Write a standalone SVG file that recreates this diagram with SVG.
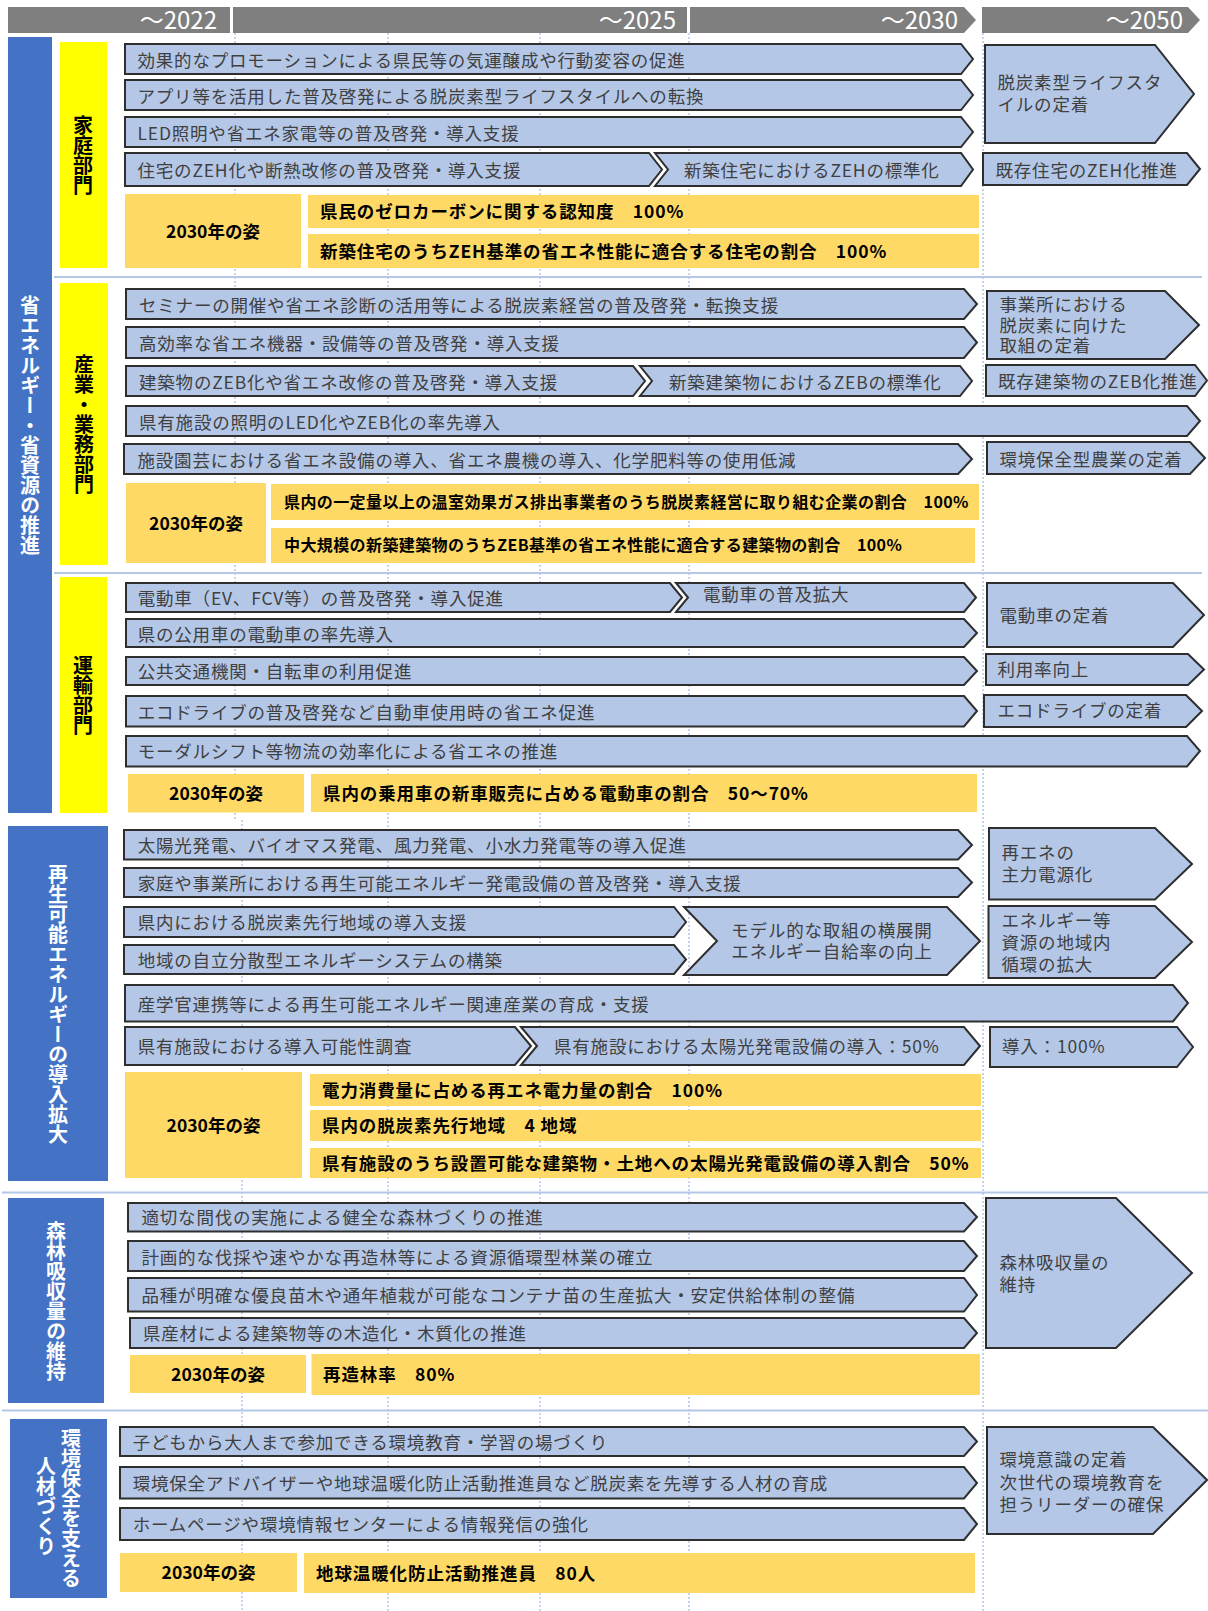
<svg xmlns="http://www.w3.org/2000/svg" width="1208" height="1611" viewBox="0 0 1208 1611">
<style>
text{font-family:'Noto Sans CJK JP','Noto Sans CJK SC',sans-serif}
.hd{fill:#7f7f7f}
.hdt{fill:#fff;font-size:24px;text-anchor:end}
.bar{fill:#4472c4}
.yb{fill:#ffff00}
.act{fill:#b4c7e7;stroke:#2e2e2e;stroke-width:2;stroke-linejoin:miter}
.at{font-size:17.5px;letter-spacing:0.8px;fill:#404040}
.gold{fill:#ffd966}
.gt{font-size:17.5px;font-weight:bold;fill:#000;letter-spacing:0.9px}
.gs{font-size:16px;letter-spacing:0.4px}
.gc{text-anchor:middle;letter-spacing:0}
.vt{writing-mode:vertical-rl;font-size:20px;font-weight:bold;text-anchor:middle}
.w{fill:#fff}
.k{fill:#000}
.grid{stroke:#8eaadb;stroke-width:1;stroke-dasharray:2 2;fill:none}
.sep{stroke:#b4c7e7;stroke-width:2}
</style>
<rect width="1208" height="1611" fill="#fff"/>
<g id="gridlines">
<line class="grid" x1="235" y1="33" x2="235" y2="820"/>
<line class="grid" x1="242" y1="820" x2="242" y2="1611"/>
<line class="grid" x1="388" y1="33" x2="388" y2="1611"/>
<line class="grid" x1="540" y1="33" x2="540" y2="1611"/>
<line class="grid" x1="689" y1="33" x2="689" y2="1611"/>
<line class="grid" x1="983" y1="33" x2="983" y2="1611"/>
<line class="sep" x1="54" y1="277" x2="1202" y2="277"/>
<line class="sep" x1="54" y1="573" x2="1202" y2="573"/>
<line class="sep" x1="2" y1="1192.5" x2="1208" y2="1192.5"/>
<line class="sep" x1="2" y1="1410.5" x2="1208" y2="1410.5"/>
</g>
<g id="header">
<rect class="hd" x="8" y="7" width="222" height="26"/>
<text class="hdt" x="217" y="28.5">～2022</text>
<rect class="hd" x="233" y="7" width="454" height="26"/>
<text class="hdt" x="676" y="28.5">～2025</text>
<polygon class="hd" points="690,7 964,7 976,20 964,33 690,33"/>
<text class="hdt" x="958" y="28.5">～2030</text>
<polygon class="hd" points="982,7 1188,7 1200,20 1188,33 982,33"/>
<text class="hdt" x="1183" y="28.5">～2050</text>
</g>
<g id="sec-energy">
<rect class="bar" x="8" y="37" width="44" height="776"/>
<text class="vt w" x="30" y="425">省エネルギー・省資源の推進</text>
</g>
<g id="sec-home">
<rect class="yb" x="60" y="42" width="47" height="226"/>
<text class="vt k" x="83" y="155.5">家庭部門</text>
<polygon class="act" points="125,44 961,44 973,59 961,74 125,74"/>
<text class="at" x="137.5" y="66.5">効果的なプロモーションによる県民等の気運醸成や行動変容の促進</text>
<polygon class="act" points="125,80 961,80 973,95 961,110 125,110"/>
<text class="at" x="137.5" y="102.5">アプリ等を活用した普及啓発による脱炭素型ライフスタイルへの転換</text>
<polygon class="act" points="125,117 961,117 973,132 961,147 125,147"/>
<text class="at" x="137.5" y="139.5">LED照明や省エネ家電等の普及啓発・導入支援</text>
<polygon class="act" points="125,153 649,153 662,169.5 649,186 125,186"/>
<text class="at" x="137.5" y="177">住宅のZEH化や断熱改修の普及啓発・導入支援</text>
<polygon class="act" points="655,153 961,153 973,169.5 961,186 655,186 668,169.5"/>
<text class="at" x="684" y="177">新築住宅におけるZEHの標準化</text>
<polygon class="act" points="985,45 1155,45 1194,94 1155,143 985,143"/>
<text class="at"><tspan x="997.5" y="89">脱炭素型ライフスタ</tspan><tspan x="997.5" y="110.5">イルの定着</tspan></text>
<polygon class="act" points="983,153 1187,153 1200,169 1187,185 983,185"/>
<text class="at" x="995.5" y="176.5">既存住宅のZEH化推進</text>
<rect class="gold" x="125" y="194" width="176" height="74"/>
<text class="gt gc" x="213" y="237.5">2030年の姿</text>
<rect class="gold" x="308" y="195" width="671" height="33"/>
<text class="gt" x="320" y="218">県民のゼロカーボンに関する認知度　100%</text>
<rect class="gold" x="308" y="234" width="671" height="34"/>
<text class="gt" x="320" y="257.5">新築住宅のうちZEH基準の省エネ性能に適合する住宅の割合　100%</text>
</g>
<g id="sec-industry">
<rect class="yb" x="60" y="283" width="48" height="282"/>
<text class="vt k" x="84" y="424">産業・業務部門</text>
<polygon class="act" points="126,289 964,289 977,304 964,319 126,319"/>
<text class="at" x="139" y="311.5">セミナーの開催や省エネ診断の活用等による脱炭素経営の普及啓発・転換支援</text>
<polygon class="act" points="126,327 964,327 977,342.5 964,358 126,358"/>
<text class="at" x="139" y="350">高効率な省エネ機器・設備等の普及啓発・導入支援</text>
<polygon class="act" points="126,366 633,366 645,381 633,396 126,396"/>
<text class="at" x="139" y="388.5">建築物のZEB化や省エネ改修の普及啓発・導入支援</text>
<polygon class="act" points="640,366 960,366 972,381 960,396 640,396 652,381"/>
<text class="at" x="669" y="388.5">新築建築物におけるZEBの標準化</text>
<polygon class="act" points="986,365 1195,365 1207,380.5 1195,396 986,396"/>
<text class="at" x="998" y="388">既存建築物のZEB化推進</text>
<polygon class="act" points="126,406 1187,406 1200,421 1187,436 126,436"/>
<text class="at" x="139" y="428.5">県有施設の照明のLED化やZEB化の率先導入</text>
<polygon class="act" points="124,444 958,444 972,459 958,474 124,474"/>
<text class="at" x="137.5" y="466.5">施設園芸における省エネ設備の導入、省エネ農機の導入、化学肥料等の使用低減</text>
<polygon class="act" points="987,442 1190,442 1205,458 1190,474 987,474"/>
<text class="at" x="999.5" y="465.5">環境保全型農業の定着</text>
<polygon class="act" points="987,291 1165,291 1199,325 1165,359 987,359"/>
<text class="at"><tspan x="999.5" y="310.5">事業所における</tspan><tspan x="999.5" y="331.5">脱炭素に向けた</tspan><tspan x="999.5" y="352">取組の定着</tspan></text>
<rect class="gold" x="126" y="483" width="140" height="80"/>
<text class="gt gc" x="196" y="529.5">2030年の姿</text>
<rect class="gold" x="271" y="484" width="708" height="36"/>
<text class="gt gs" x="284" y="507.5">県内の一定量以上の温室効果ガス排出事業者のうち脱炭素経営に取り組む企業の割合　100%</text>
<rect class="gold" x="271" y="528" width="704" height="35"/>
<text class="gt gs" x="284" y="551">中大規模の新築建築物のうちZEB基準の省エネ性能に適合する建築物の割合　100%</text>
</g>
<g id="sec-transport">
<rect class="yb" x="60" y="577" width="47" height="236"/>
<text class="vt k" x="83" y="695">運輸部門</text>
<polygon class="act" points="126,583 670,583 682,597.5 670,612 126,612"/>
<text class="at" x="137.7" y="604.5">電動車（EV、FCV等）の普及啓発・導入促進</text>
<polygon class="act" points="676,583 964,583 976,597.5 964,612 676,612 688,597.5"/>
<text class="at" x="703" y="601">電動車の普及拡大</text>
<polygon class="act" points="126,619 964,619 977,633 964,647 126,647"/>
<text class="at" x="137.7" y="640.5">県の公用車の電動車の率先導入</text>
<polygon class="act" points="126,657 964,657 977,671 964,685 126,685"/>
<text class="at" x="137.7" y="678">公共交通機関・自転車の利用促進</text>
<polygon class="act" points="126,696 964,696 977,711 964,726.5 126,726.5"/>
<text class="at" x="137.7" y="718.5">エコドライブの普及啓発など自動車使用時の省エネ促進</text>
<polygon class="act" points="126,736 1187,736 1200,751 1187,766.5 126,766.5"/>
<text class="at" x="137.7" y="758">モーダルシフト等物流の効率化による省エネの推進</text>
<polygon class="act" points="987,583 1173,583 1204,615 1173,647 987,647"/>
<text class="at" x="999.5" y="622">電動車の定着</text>
<polygon class="act" points="986,654 1188,654 1204,669.5 1188,685 986,685"/>
<text class="at" x="997.5" y="675.5">利用率向上</text>
<polygon class="act" points="984,695 1186,695 1202,711 1186,727 984,727"/>
<text class="at" x="997.5" y="717">エコドライブの定着</text>
<rect class="gold" x="128" y="774" width="176" height="38.5"/>
<text class="gt gc" x="216" y="800">2030年の姿</text>
<rect class="gold" x="311" y="774" width="666" height="38"/>
<text class="gt" x="323" y="799.5">県内の乗用車の新車販売に占める電動車の割合　50～70%</text>
</g>
<g id="sec-renewable">
<rect class="bar" x="8" y="826" width="100" height="355"/>
<text class="vt w" x="58" y="1004">再生可能エネルギーの導入拡大</text>
<polygon class="act" points="124,830 958,830 972,845 958,859.5 124,859.5"/>
<text class="at" x="137.7" y="852">太陽光発電、バイオマス発電、風力発電、小水力発電等の導入促進</text>
<polygon class="act" points="124,868 958,868 972,882.5 958,897 124,897"/>
<text class="at" x="137.7" y="889.5">家庭や事業所における再生可能エネルギー発電設備の普及啓発・導入支援</text>
<polygon class="act" points="124,907 674,907 686,922 674,937 124,937"/>
<text class="at" x="137.7" y="929">県内における脱炭素先行地域の導入支援</text>
<polygon class="act" points="124,945 674,945 686,959.5 674,974 124,974"/>
<text class="at" x="137.7" y="966.5">地域の自立分散型エネルギーシステムの構築</text>
<polygon class="act" points="684,907 947,907 980,941 947,975 684,975 717,941"/>
<text class="at" text-anchor="middle"><tspan x="832" y="937">モデル的な取組の横展開</tspan><tspan x="832" y="958">エネルギー自給率の向上</tspan></text>
<polygon class="act" points="989,828 1155,828 1192,864 1155,899.5 989,899.5"/>
<text class="at"><tspan x="1001.5" y="859">再エネの</tspan><tspan x="1001.5" y="881">主力電源化</tspan></text>
<polygon class="act" points="988.5,906 1155,906 1192,942 1155,978 988.5,978"/>
<text class="at"><tspan x="1001.5" y="927">エネルギー等</tspan><tspan x="1001.5" y="949">資源の地域内</tspan><tspan x="1001.5" y="970.5">循環の拡大</tspan></text>
<polygon class="act" points="125,985 1173,985 1188,1003 1173,1021.5 125,1021.5"/>
<text class="at" x="137.7" y="1010.5">産学官連携等による再生可能エネルギー関連産業の育成・支援</text>
<polygon class="act" points="125,1027 515,1027 531,1046 515,1065 125,1065"/>
<text class="at" x="137.7" y="1052.5">県有施設における導入可能性調査</text>
<polygon class="act" points="521,1027 964,1027 980,1046 964,1065 521,1065 537,1046"/>
<text class="at" x="554" y="1052.5">県有施設における太陽光発電設備の導入：50%</text>
<polygon class="act" points="990,1027 1177,1027 1193,1047 1177,1067 990,1067"/>
<text class="at" x="1002" y="1052.5">導入：100%</text>
<rect class="gold" x="125" y="1072" width="177" height="106"/>
<text class="gt gc" x="213.5" y="1131.5">2030年の姿</text>
<rect class="gold" x="310" y="1074" width="671" height="32"/>
<text class="gt" x="322" y="1096.5">電力消費量に占める再エネ電力量の割合　100%</text>
<rect class="gold" x="310" y="1110" width="671" height="31"/>
<text class="gt" x="322" y="1132">県内の脱炭素先行地域　4 地域</text>
<rect class="gold" x="310" y="1148" width="671" height="30"/>
<text class="gt" x="322" y="1169.5">県有施設のうち設置可能な建築物・土地への太陽光発電設備の導入割合　50%</text>
</g>
<g id="sec-forest">
<rect class="bar" x="8" y="1198" width="96" height="205"/>
<text class="vt w" x="56" y="1301">森林吸収量の維持</text>
<polygon class="act" points="128,1203 964,1203 977,1217 964,1231.5 128,1231.5"/>
<text class="at" x="141.5" y="1224">適切な間伐の実施による健全な森林づくりの推進</text>
<polygon class="act" points="128,1241 964,1241 977,1256 964,1271 128,1271"/>
<text class="at" x="141.5" y="1263.5">計画的な伐採や速やかな再造林等による資源循環型林業の確立</text>
<polygon class="act" points="128,1278 964,1278 977,1295 964,1311.5 128,1311.5"/>
<text class="at" x="141.5" y="1302">品種が明確な優良苗木や通年植栽が可能なコンテナ苗の生産拡大・安定供給体制の整備</text>
<polygon class="act" points="130,1318 964,1318 977,1333 964,1348 130,1348"/>
<text class="at" x="143" y="1340">県産材による建築物等の木造化・木質化の推進</text>
<polygon class="act" points="986,1198 1116,1198 1192,1273 1116,1348 986,1348"/>
<text class="at"><tspan x="999.5" y="1269">森林吸収量の</tspan><tspan x="999.5" y="1291">維持</tspan></text>
<rect class="gold" x="130" y="1355" width="176" height="38"/>
<text class="gt gc" x="218" y="1380.5">2030年の姿</text>
<rect class="gold" x="311.5" y="1354" width="668.5" height="41"/>
<text class="gt" x="323" y="1381">再造林率　80%</text>
</g>
<g id="sec-people">
<rect class="bar" x="10" y="1419" width="97" height="179"/>
<text class="vt w"><tspan x="71" y="1508">環境保全を支える</tspan></text>
<text class="vt w"><tspan x="46" y="1506">人材づくり</tspan></text>
<polygon class="act" points="120,1427 964,1427 977,1441.5 964,1456 120,1456"/>
<text class="at" x="132.7" y="1448.5">子どもから大人まで参加できる環境教育・学習の場づくり</text>
<polygon class="act" points="120,1467 964,1467 977,1483 964,1498.5 120,1498.5"/>
<text class="at" x="132.7" y="1490">環境保全アドバイザーや地球温暖化防止活動推進員など脱炭素を先導する人材の育成</text>
<polygon class="act" points="120,1508 964,1508 977,1524 964,1540 120,1540"/>
<text class="at" x="132.7" y="1530.5">ホームページや環境情報センターによる情報発信の強化</text>
<polygon class="act" points="987,1427 1153,1427 1207,1480 1153,1534 987,1534"/>
<text class="at"><tspan x="999.5" y="1466">環境意識の定着</tspan><tspan x="999.5" y="1489">次世代の環境教育を</tspan><tspan x="999.5" y="1511">担うリーダーの確保</tspan></text>
<rect class="gold" x="120" y="1553" width="177" height="39"/>
<text class="gt gc" x="208.5" y="1579">2030年の姿</text>
<rect class="gold" x="304" y="1553" width="671" height="40"/>
<text class="gt" x="316" y="1579.5">地球温暖化防止活動推進員　80人</text>
</g>
</svg>
